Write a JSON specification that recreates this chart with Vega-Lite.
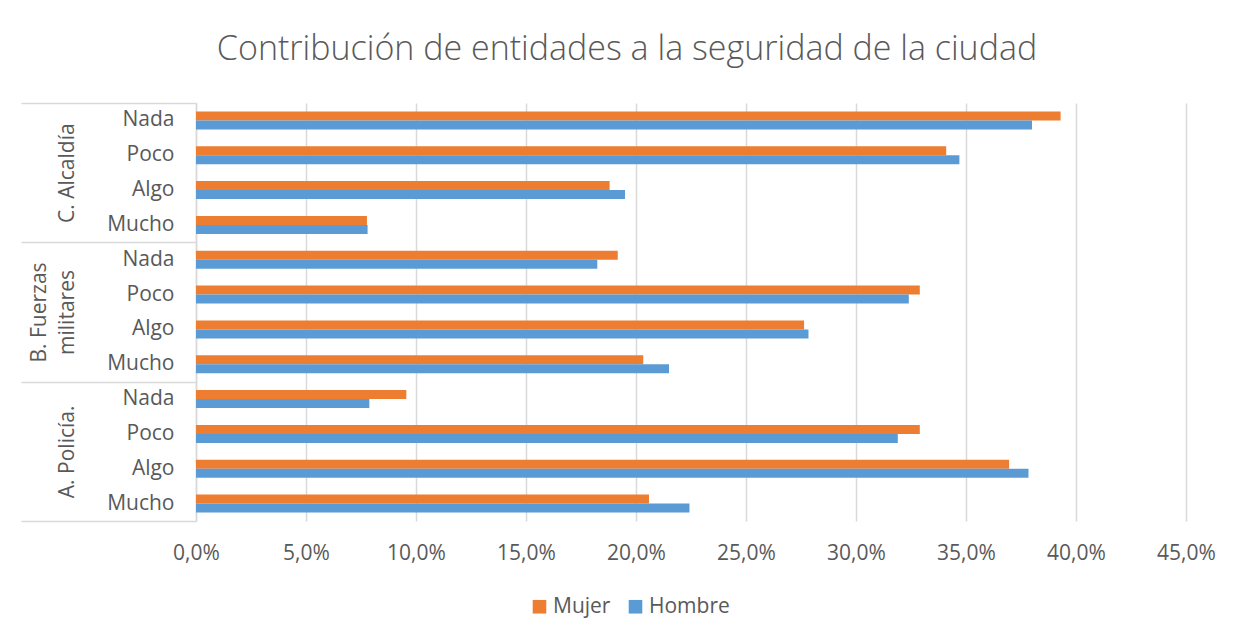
{
  "$schema": "https://vega.github.io/schema/vega-lite/v6.json",
  "width": 990,
  "height": 418,
  "autosize": {"type": "none"},
  "padding": {"left": 196, "top": 103, "right": 58, "bottom": 120},
  "background": "white",
  "title": {
    "text": "Contribución de entidades a la seguridad de la ciudad",
    "font": "Open Sans",
    "fontSize": 34,
    "fontWeight": 300,
    "color": "#595959",
    "anchor": "middle",
    "frame": "group",
    "dx": -64,
    "baseline": "bottom",
    "offset": 1
  },
  "config": {
    "font": "Open Sans",
    "view": {"stroke": null}
  },
  "data": {
    "values": [
      {"grupo": "C. Alcaldía", "fila": "C. Alcaldía|Nada", "serie": "Mujer", "valor": 0.393},
      {"grupo": "C. Alcaldía", "fila": "C. Alcaldía|Nada", "serie": "Hombre", "valor": 0.380},
      {"grupo": "C. Alcaldía", "fila": "C. Alcaldía|Poco", "serie": "Mujer", "valor": 0.341},
      {"grupo": "C. Alcaldía", "fila": "C. Alcaldía|Poco", "serie": "Hombre", "valor": 0.347},
      {"grupo": "C. Alcaldía", "fila": "C. Alcaldía|Algo", "serie": "Mujer", "valor": 0.188},
      {"grupo": "C. Alcaldía", "fila": "C. Alcaldía|Algo", "serie": "Hombre", "valor": 0.195},
      {"grupo": "C. Alcaldía", "fila": "C. Alcaldía|Mucho", "serie": "Mujer", "valor": 0.0777},
      {"grupo": "C. Alcaldía", "fila": "C. Alcaldía|Mucho", "serie": "Hombre", "valor": 0.078},
      {"grupo": "B. Fuerzas militares", "fila": "B. Fuerzas militares|Nada", "serie": "Mujer", "valor": 0.1917},
      {"grupo": "B. Fuerzas militares", "fila": "B. Fuerzas militares|Nada", "serie": "Hombre", "valor": 0.1824},
      {"grupo": "B. Fuerzas militares", "fila": "B. Fuerzas militares|Poco", "serie": "Mujer", "valor": 0.329},
      {"grupo": "B. Fuerzas militares", "fila": "B. Fuerzas militares|Poco", "serie": "Hombre", "valor": 0.324},
      {"grupo": "B. Fuerzas militares", "fila": "B. Fuerzas militares|Algo", "serie": "Mujer", "valor": 0.2764},
      {"grupo": "B. Fuerzas militares", "fila": "B. Fuerzas militares|Algo", "serie": "Hombre", "valor": 0.2784},
      {"grupo": "B. Fuerzas militares", "fila": "B. Fuerzas militares|Mucho", "serie": "Mujer", "valor": 0.2033},
      {"grupo": "B. Fuerzas militares", "fila": "B. Fuerzas militares|Mucho", "serie": "Hombre", "valor": 0.215},
      {"grupo": "A. Policía.", "fila": "A. Policía.|Nada", "serie": "Mujer", "valor": 0.0956},
      {"grupo": "A. Policía.", "fila": "A. Policía.|Nada", "serie": "Hombre", "valor": 0.0788},
      {"grupo": "A. Policía.", "fila": "A. Policía.|Poco", "serie": "Mujer", "valor": 0.329},
      {"grupo": "A. Policía.", "fila": "A. Policía.|Poco", "serie": "Hombre", "valor": 0.319},
      {"grupo": "A. Policía.", "fila": "A. Policía.|Algo", "serie": "Mujer", "valor": 0.3696},
      {"grupo": "A. Policía.", "fila": "A. Policía.|Algo", "serie": "Hombre", "valor": 0.3784},
      {"grupo": "A. Policía.", "fila": "A. Policía.|Mucho", "serie": "Mujer", "valor": 0.2059},
      {"grupo": "A. Policía.", "fila": "A. Policía.|Mucho", "serie": "Hombre", "valor": 0.2243}
    ]
  },
  "layer": [
    {
      "mark": {"type": "bar"},
      "encoding": {
        "y": {
          "field": "fila",
          "type": "nominal",
          "sort": [
            "C. Alcaldía|Nada", "C. Alcaldía|Poco", "C. Alcaldía|Algo", "C. Alcaldía|Mucho",
            "B. Fuerzas militares|Nada", "B. Fuerzas militares|Poco", "B. Fuerzas militares|Algo", "B. Fuerzas militares|Mucho",
            "A. Policía.|Nada", "A. Policía.|Poco", "A. Policía.|Algo", "A. Policía.|Mucho"
          ],
          "scale": {"paddingInner": 0, "paddingOuter": 0},
          "axis": {
            "orient": "left",
            "title": null,
            "ticks": false,
            "domain": true,
            "domainColor": "#d9d9d9",
            "domainWidth": 1.5,
            "labelExpr": "split(datum.value, '|')[1]",
            "labelFontSize": 21,
            "labelColor": "#595959",
            "labelPadding": 22,
            "grid": false
          }
        },
        "yOffset": {
          "field": "serie",
          "sort": ["Mujer", "Hombre"],
          "scale": {"paddingInner": 0, "paddingOuter": 0.93}
        },
        "x": {
          "field": "valor",
          "type": "quantitative",
          "scale": {"domain": [0, 0.45]},
          "axis": {
            "title": null,
            "values": [0, 0.05, 0.1, 0.15, 0.2, 0.25, 0.3, 0.35, 0.4, 0.45],
            "labelExpr": "replace(format(datum.value, '.1%'), '.', ',')",
            "labelFlush": false,
            "labelAlign": "center",
            "grid": true,
            "gridColor": "#d9d9d9",
            "gridWidth": 1.5,
            "domain": false,
            "ticks": false,
            "labelFontSize": 21,
            "labelColor": "#595959",
            "labelPadding": 21
          }
        },
        "color": {
          "field": "serie",
          "type": "nominal",
          "scale": {"domain": ["Mujer", "Hombre"], "range": ["#ED7D31", "#5B9BD5"]},
          "legend": {
            "title": null,
            "orient": "none",
            "legendX": 333,
            "legendY": 493,
            "direction": "horizontal",
            "symbolType": "square",
            "symbolSize": 185,
            "symbolStrokeWidth": 0,
            "labelFontSize": 21,
            "labelColor": "#595959",
            "labelOffset": 3,
            "columnPadding": 14
          }
        }
      }
    },
    {
      "mark": {"type": "bar", "opacity": 0},
      "encoding": {
        "y": {
          "field": "grupo",
          "type": "nominal",
          "sort": ["C. Alcaldía", "B. Fuerzas militares", "A. Policía."],
          "scale": {"paddingInner": 0, "paddingOuter": 0},
          "axis": {
            "orient": "left",
            "title": null,
            "tickBand": "extent",
            "ticks": true,
            "tickSize": 175,
            "tickColor": "#d9d9d9",
            "tickWidth": 1.5,
            "domain": false,
            "grid": false,
            "labelAngle": -90,
            "labelAlign": "center",
            "labelBaseline": "middle",
            "labelPadding": -18,
            "labelFontSize": 21,
            "labelColor": "#595959",
            "labelLineHeight": 28,
            "labelExpr": "datum.value == 'B. Fuerzas militares' ? ['B. Fuerzas', 'militares'] : [' ', datum.value]"
          }
        },
        "x": {"field": "valor", "type": "quantitative"}
      }
    }
  ],
  "resolve": {"scale": {"y": "independent"}, "axis": {"y": "independent"}}
}
